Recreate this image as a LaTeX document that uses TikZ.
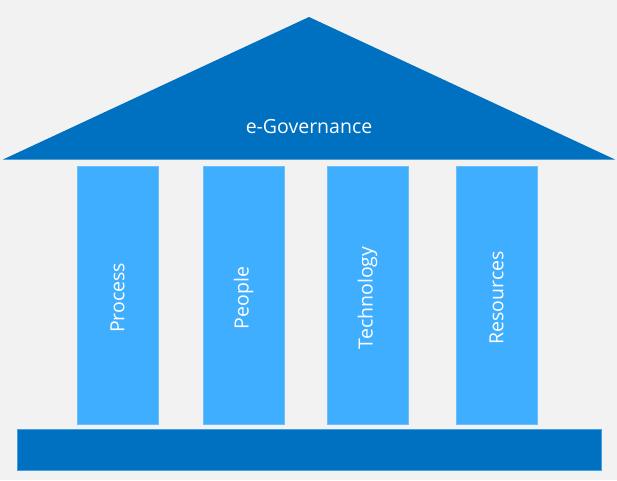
\documentclass[tikz,border=0pt]{standalone}
\usepackage{fontspec}
\setmainfont{Open Sans}
\usepackage{xcolor}
\definecolor{roofblue}{RGB}{0,112,192}
\definecolor{pillarblue}{RGB}{64,174,255}
\definecolor{pillaredge}{RGB}{110,190,250}
\definecolor{bggray}{RGB}{242,242,242}

\begin{document}
\begin{tikzpicture}[x=1pt, y=-1pt,
    pillar/.style={fill=pillarblue, draw=pillaredge, line width=0.8pt,
      minimum width=81pt, minimum height=258pt, inner sep=0pt},
    pillartext/.style={rotate=90, text=white, inner sep=0pt,
      font=\fontsize{19.5}{22}\selectfont},
    baseslab/.style={fill=roofblue, draw=pillaredge!60!roofblue, line width=0.8pt,
      minimum width=584pt, minimum height=40.5pt, inner sep=0pt}]
  % Background
  \fill[bggray] (0,0) rectangle (617,480);
  \useasboundingbox (0,0) rectangle (617,480);
  % Roof
  \coordinate (roofL) at (3,159.5);
  \coordinate (roofR) at (615,159.5);
  \coordinate (apex) at (309,17);
  \fill[roofblue] (roofL) -- (apex) -- (roofR) -- cycle;
  \node[text=white, inner sep=0pt, font=\fontsize{19.5}{22}\selectfont] (egov) at (309,127) {e-Governance};
  % Pillars
  \foreach \name/\xpos/\txt in {process/117.5/Process, people/243.5/People,
      technology/367.5/Technology, resources/496.5/Resources} {
    \node[pillar] (\name) at (\xpos,295) {};
    \node[pillartext] (\name-text) at ([yshift=-3pt]\name.center) {\txt};
  }
  % Base
  \node[baseslab] (base) at (309.5,449.75) {};
\end{tikzpicture}
\end{document}
